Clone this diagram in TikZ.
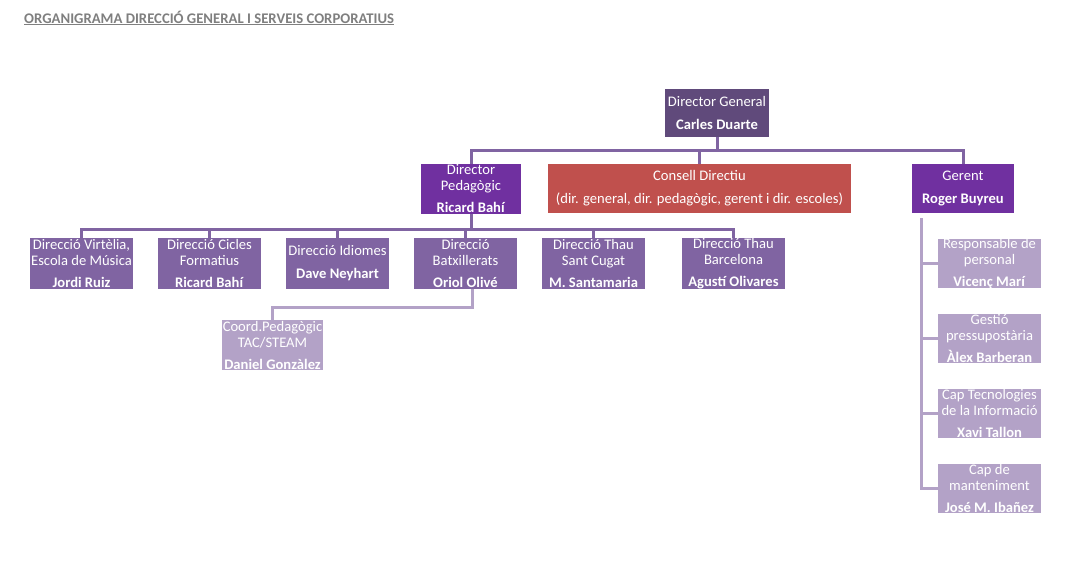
\documentclass[tikz,border=0pt]{standalone}
\usepackage{fontspec}
\setmainfont{Carlito}
\definecolor{dgcol}{HTML}{604A7B}
\definecolor{vivid}{HTML}{7030A0}
\definecolor{redc}{HTML}{C0504D}
\definecolor{midp}{HTML}{8064A2}
\definecolor{lightp}{HTML}{B3A2C7}
\definecolor{titlegray}{HTML}{7F7F7F}
\tikzset{
  box/.style={rectangle, inner sep=0pt, draw=none},
  txt/.style={text=white, align=center, inner sep=0pt, font=\fontsize{14.6}{16}\selectfont},
  conn/.style={draw=midp, line width=3pt},
  lconn/.style={draw=lightp, line width=3pt},
}
\begin{document}
\begin{tikzpicture}[x=1pt,y=-1pt]
\useasboundingbox (0,0) rectangle (1081,588);
\fill[white] (0,0) rectangle (1081,588);

% title
\node[anchor=west, inner sep=0pt, text=titlegray, font=\fontsize{14.7}{16}\selectfont\bfseries] (title) at (24,18)
  {\underline{ORGANIGRAMA DIRECCIÓ GENERAL I SERVEIS CORPORATIUS}};

% boxes
\node[box, fill=dgcol, minimum width=104pt, minimum height=48pt] (dg) at (717,113) {};
\node[box, fill=vivid, minimum width=100pt, minimum height=50pt] (dp) at (471,189) {};
\node[box, fill=redc, minimum width=303pt, minimum height=49pt] (cd) at (699.5,188.5) {};
\node[box, fill=vivid, minimum width=102pt, minimum height=49pt] (gr) at (963,188.5) {};

\node[box, fill=midp, minimum width=103pt, minimum height=51pt] (v1) at (81.5,263.5) {};
\node[box, fill=midp, minimum width=103pt, minimum height=51pt] (v2) at (209.5,263.5) {};
\node[box, fill=midp, minimum width=103pt, minimum height=51pt] (v3) at (337.5,263.5) {};
\node[box, fill=midp, minimum width=103pt, minimum height=51pt] (v4) at (465.5,263.5) {};
\node[box, fill=midp, minimum width=103pt, minimum height=51pt] (v5) at (593.5,263.5) {};
\node[box, fill=midp, minimum width=103pt, minimum height=51pt] (v6) at (733.5,263.5) {};

\node[box, fill=lightp, minimum width=101pt, minimum height=50pt] (co) at (272.5,345) {};

\node[box, fill=lightp, minimum width=103pt, minimum height=49pt] (g1) at (989.5,263.5) {};
\node[box, fill=lightp, minimum width=103pt, minimum height=49pt] (g2) at (989.5,338.5) {};
\node[box, fill=lightp, minimum width=103pt, minimum height=49pt] (g3) at (989.5,413.5) {};
\node[box, fill=lightp, minimum width=103pt, minimum height=49pt] (g4) at (989.5,488.5) {};

% connectors
\coordinate (j1) at (717,151);
\coordinate (j2) at (471,229);
\coordinate (b1) at (472,307);
\coordinate (gtop) at (921,218);
\coordinate (gbot) at (921,490);

\draw[conn] (dg.south) -- (j1);
\draw[conn] (dp.north) -- (dp.north |- j1) -- (gr.north |- j1) -- (gr.north);
\draw[conn] (cd.north) -- (cd.north |- j1);

\draw[conn] (dp.south) -- (j2);
\draw[conn] (v1.north) -- (v1.north |- j2) -- (v6.north |- j2) -- (v6.north);
\foreach \n in {v2,v3,v4,v5} \draw[conn] (\n.north) -- (\n.north |- j2);

\draw[lconn] (v4.south -| b1) -- (b1) -| (co.north);

\draw[lconn] (gtop) -- (gbot);
\foreach \n in {g1,g2,g3,g4} \draw[lconn] (\n.west) -- (\n.west -| gtop);

% texts
\node[txt] (dg-t) at (dg) {Director General\\[7pt]\textbf{Carles Duarte}};
\node[txt] (dp-t) at (dp) {Director\\Pedagògic\\[6pt]\textbf{Ricard Bahí}};
\node[txt] (cd-t) at (cd) {Consell Directiu\\[7pt](dir. general, dir. pedagògic, gerent i dir. escoles)};
\node[txt] (gr-t) at (gr) {Gerent\\[7pt]\textbf{Roger Buyreu}};

\node[txt] (v1-t) at (v1) {Direcció Virtèlia,\\Escola de Música\\[6pt]\textbf{Jordi Ruiz}};
\node[txt] (v2-t) at (v2) {Direcció Cicles\\Formatius\\[6pt]\textbf{Ricard Bahí}};
\node[txt] (v3-t) at (v3) {Direcció Idiomes\\[7pt]\textbf{Dave Neyhart}};
\node[txt] (v4-t) at (v4) {Direcció\\Batxillerats\\[6pt]\textbf{Oriol Olivé}};
\node[txt] (v5-t) at (v5) {Direcció Thau\\Sant Cugat\\[6pt]\textbf{M. Santamaria}};
\node[txt] (v6-t) at (v6) {Direcció Thau\\Barcelona\\[6pt]\textbf{Agustí Olivares}};

\node[txt] (co-t) at (co) {Coord.Pedagògic\\TAC/STEAM\\[6pt]\textbf{Daniel Gonzàlez}};

\node[txt] (g1-t) at (g1) {Responsable de\\personal\\[6pt]\textbf{Vicenç Marí}};
\node[txt] (g2-t) at (g2) {Gestió\\pressupostària\\[6pt]\textbf{Àlex Barberan}};
\node[txt] (g3-t) at (g3) {Cap Tecnologies\\de la Informació\\[6pt]\textbf{Xavi Tallon}};
\node[txt] (g4-t) at (g4) {Cap de\\manteniment\\[6pt]\textbf{José M. Ibañez}};
\end{tikzpicture}
\end{document}
